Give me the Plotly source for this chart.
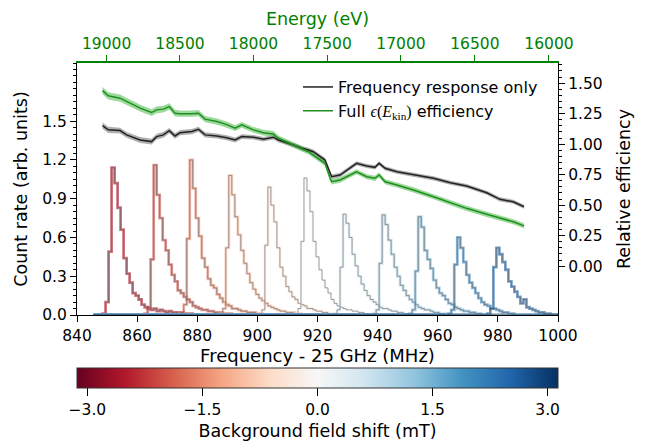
import numpy as np
import plotly.graph_objects as go
from plotly.colors import sample_colorscale

# ---------------- data ----------------
# histogram bins (MHz, frequency - 25 GHz), 1 MHz wide
bin_lo, bin_hi, bin_w = 845.5, 1000.5, 1.0

field_shifts = [-2.5, -2.0, -1.5, -1.0, -0.5, 0.0, 0.5, 1.0, 1.5, 2.0, 2.5]   # mT
hist_start = [848.5, 862.5, 874.5, 887.5, 900.5, 912.5, 925.5, 938.5, 950.5, 963.5, 976.5]
hist_vals = [
    [0.01, 0.10, 0.49, 1.14, 1.02, 0.83, 0.66, 0.44, 0.32, 0.25, 0.17, 0.15, 0.12, 0.08, 0.06,
     0.05, 0.04, 0.05, 0.03, 0.04, 0.03, 0.02, 0.03, 0.02, 0.02, 0.01, 0.02, 0.01, 0.01, 0.01],
    [0.01, 0.06, 0.43, 1.16, 0.93, 0.75, 0.58, 0.50, 0.39, 0.31, 0.26, 0.19, 0.17, 0.14, 0.12,
     0.10, 0.07, 0.06, 0.05, 0.04, 0.04, 0.03, 0.03, 0.02, 0.02, 0.02, 0.01, 0.01, 0.01],
    [0.02, 0.08, 0.59, 1.20, 0.98, 0.75, 0.61, 0.44, 0.37, 0.28, 0.23, 0.21, 0.16, 0.13, 0.10,
     0.08, 0.07, 0.05, 0.05, 0.04, 0.03, 0.03, 0.02, 0.02, 0.02, 0.01, 0.01],
    [0.01, 0.05, 0.52, 1.08, 0.93, 0.76, 0.62, 0.50, 0.40, 0.32, 0.25, 0.20, 0.16, 0.13, 0.11,
     0.09, 0.07, 0.06, 0.05, 0.04, 0.03, 0.03, 0.02, 0.02, 0.02, 0.01, 0.01],
    [0.01, 0.04, 0.54, 0.99, 0.85, 0.72, 0.52, 0.37, 0.30, 0.22, 0.18, 0.14, 0.12, 0.09, 0.08,
     0.07, 0.05, 0.05, 0.04, 0.03, 0.03, 0.02, 0.02, 0.01, 0.01],
    [0.01, 0.05, 0.57, 1.06, 0.96, 0.80, 0.57, 0.45, 0.35, 0.27, 0.21, 0.17, 0.12, 0.09, 0.07,
     0.06, 0.05, 0.04, 0.04, 0.03, 0.03, 0.02, 0.02, 0.01, 0.01],
    [0.01, 0.04, 0.37, 0.78, 0.71, 0.60, 0.47, 0.38, 0.30, 0.24, 0.19, 0.15, 0.12, 0.10, 0.08,
     0.06, 0.05, 0.05, 0.04, 0.03, 0.03, 0.02, 0.02, 0.01, 0.01],
    [0.01, 0.04, 0.40, 0.775, 0.70, 0.58, 0.47, 0.37, 0.30, 0.23, 0.19, 0.15, 0.12, 0.10, 0.08,
     0.06, 0.05, 0.04, 0.04, 0.03, 0.02, 0.02, 0.01, 0.01],
    [0.01, 0.04, 0.34, 0.76, 0.68, 0.50, 0.43, 0.36, 0.27, 0.21, 0.17, 0.15, 0.12, 0.09, 0.08,
     0.06, 0.05, 0.04, 0.03, 0.03, 0.02, 0.02, 0.01, 0.01],
    [0.01, 0.04, 0.39, 0.60, 0.52, 0.41, 0.31, 0.25, 0.21, 0.17, 0.13, 0.10, 0.08, 0.07, 0.05,
     0.05, 0.04, 0.03, 0.02, 0.02, 0.01, 0.01],
    [0.01, 0.05, 0.37, 0.52, 0.47, 0.41, 0.35, 0.26, 0.22, 0.18, 0.14, 0.09, 0.12, 0.06, 0.05,
     0.04, 0.03, 0.02, 0.02, 0.01, 0.01],
]

# efficiency curves (right axis)
eff_freq = [848.5, 850.4, 854.3, 856.5, 861.0, 864.8, 866.5, 868.7, 870.7, 872.6, 874.3, 878.2,
            880.4, 882.6, 886.5, 889.8, 892.6, 894.8, 898.7, 902.0, 905.3, 907.0, 912.0, 914.8,
            917.0, 918.6, 922.5, 924.2, 924.7, 927.5, 930.8, 933.0, 936.4, 939.1, 940.5, 942.5,
            946.4, 951.9, 958.6, 964.2, 969.6, 976.3, 980.7, 985.1, 988.7]
freq_resp_only = [1.152, 1.117, 1.111, 1.076, 1.034, 1.021, 1.062, 1.076, 1.111, 1.067, 1.094, 1.103,
                  1.122, 1.076, 1.067, 1.053, 1.034, 1.062, 1.057, 1.040, 1.057, 1.034, 0.993, 0.966,
                  0.952, 0.938, 0.870, 0.761, 0.733, 0.747, 0.802, 0.843, 0.821, 0.810, 0.843, 0.802,
                  0.774, 0.747, 0.720, 0.684, 0.657, 0.602, 0.548, 0.528, 0.487]
freq_resp_err = [0.025, 0.025, 0.024, 0.024, 0.024, 0.024, 0.023, 0.023, 0.022, 0.022, 0.022, 0.021,
                 0.021, 0.021, 0.020, 0.020, 0.020, 0.020, 0.019, 0.019, 0.019, 0.019, 0.018, 0.018,
                 0.018, 0.018, 0.018, 0.018, 0.018, 0.018, 0.017, 0.017, 0.017, 0.017, 0.017, 0.017,
                 0.017, 0.017, 0.017, 0.017, 0.017, 0.017, 0.017, 0.017, 0.017]
full_eff = [1.439, 1.396, 1.377, 1.350, 1.295, 1.259, 1.281, 1.287, 1.308, 1.254, 1.250, 1.250,
            1.254, 1.205, 1.185, 1.160, 1.131, 1.158, 1.117, 1.094, 1.084, 1.048, 0.993, 0.966,
            0.938, 0.911, 0.843, 0.720, 0.692, 0.706, 0.750, 0.774, 0.733, 0.720, 0.747, 0.692,
            0.665, 0.625, 0.569, 0.520, 0.474, 0.425, 0.392, 0.364, 0.330]
full_eff_err = [0.030, 0.030, 0.029, 0.029, 0.028, 0.028, 0.028, 0.027, 0.027, 0.027, 0.026, 0.026,
                0.026, 0.025, 0.025, 0.025, 0.024, 0.024, 0.024, 0.023, 0.023, 0.023, 0.022, 0.022,
                0.022, 0.022, 0.022, 0.022, 0.022, 0.022, 0.021, 0.021, 0.021, 0.021, 0.021, 0.021,
                0.021, 0.021, 0.021, 0.021, 0.021, 0.021, 0.021, 0.021, 0.021]

# top axis: energy ticks (eV)
energy_ticks = [19000, 18500, 18000, 17500, 17000, 16500, 16000]
F_ZERO_MHZ = 26811.0      # cyclotron frequency for E = 0 (MHz)
ME_C2_EV = 510998.95
F_OFFSET = 25000.0

# colour scale (RdBu)
rdbu = ['rgb(103,0,31)', 'rgb(178,24,43)', 'rgb(214,96,77)', 'rgb(244,165,130)',
        'rgb(253,219,199)', 'rgb(247,247,247)', 'rgb(209,229,240)', 'rgb(146,197,222)',
        'rgb(67,147,195)', 'rgb(33,102,172)', 'rgb(5,48,97)']
cb_min, cb_max = -3.135, 3.135
cb_ticks = [-3.0, -1.5, 0.0, 1.5, 3.0]
cb_ticktext = ['\u22123.0', '\u22121.5', '0.0', '1.5', '3.0']

left_ticks = [0.0, 0.3, 0.6, 0.9, 1.2, 1.5]
right_ticks = [0.0, 0.25, 0.5, 0.75, 1.0, 1.25, 1.5]

FONT = "DejaVu Sans, Arial, sans-serif"
GREEN = "#008000"
W, H = 646, 447
ML, MR, MT, MB = 77, 88, 63, 132
TICK_FS = 15.5
TITLE_FS = 17.5

# ---------------- figure ----------------
fig = go.Figure()

edges = np.arange(bin_lo, bin_hi + 1e-9, bin_w)
nb = len(edges) - 1
pos = [(s - cb_min) / (cb_max - cb_min) for s in field_shifts]
cols = sample_colorscale(rdbu, pos, colortype='rgb')

def with_alpha(c, a):
    return c.replace('rgb(', 'rgba(').replace(')', f',{a})')

for k, (st, vals) in enumerate(zip(hist_start, hist_vals)):
    counts = np.zeros(nb)
    i0 = int(round((st - bin_lo) / bin_w))
    n = min(len(vals), nb - i0)
    counts[i0:i0 + n] = vals[:n]
    xs = edges
    ys = np.append(counts, counts[-1])
    fig.add_trace(go.Scatter(x=xs, y=ys, mode='lines', line=dict(shape='hv', width=2.8,
                             color=with_alpha(cols[k], 0.6)),
                             showlegend=False, hoverinfo='skip'))
    fig.add_trace(go.Scatter(x=xs, y=ys, mode='lines', line=dict(shape='hv', width=1.0,
                             color='rgba(95,95,95,0.6)'),
                             showlegend=False, hoverinfo='skip'))

def band(xv, yv, ev, fillcol):
    lo = [y - e for y, e in zip(yv, ev)]
    hi = [y + e for y, e in zip(yv, ev)]
    fig.add_trace(go.Scatter(x=xv, y=lo, yaxis='y2', mode='lines', line=dict(width=0),
                             showlegend=False, hoverinfo='skip'))
    fig.add_trace(go.Scatter(x=xv, y=hi, yaxis='y2', mode='lines', line=dict(width=0),
                             fill='tonexty', fillcolor=fillcol, showlegend=False, hoverinfo='skip'))

band(eff_freq, freq_resp_only, freq_resp_err, 'rgba(80,80,80,0.45)')
band(eff_freq, full_eff, full_eff_err, 'rgba(60,180,60,0.5)')

fig.add_trace(go.Scatter(x=eff_freq, y=freq_resp_only, yaxis='y2', mode='lines',
                         line=dict(color='#222222', width=1.5), name='Frequency response only',
                         legendgroup='a'))
fig.add_trace(go.Scatter(x=eff_freq, y=full_eff, yaxis='y2', mode='lines',
                         line=dict(color='#1f8f1f', width=1.5), legendgroup='b',
                         name='Full <span style="font-family:Liberation Serif, DejaVu Serif, serif">'
                              '<i>\u03f5</i>(<i>E</i><sub>kin</sub>)</span> efficiency'))

# invisible trace to activate the top (energy) axis
fig.add_trace(go.Scatter(x=[900], y=[-5], xaxis='x2', mode='markers', marker=dict(size=1, opacity=0),
                         showlegend=False, hoverinfo='skip'))

# colourbar carrier (point lies outside the visible range)
fig.add_trace(go.Scatter(x=[900], y=[-5], mode='markers', showlegend=False, hoverinfo='skip',
                         marker=dict(color=[0], colorscale=[[i / 10, c] for i, c in enumerate(rdbu)],
                                     cmin=cb_min, cmax=cb_max, size=1, opacity=0,
                                     colorbar=dict(orientation='h',
                                                   x=0.5, xanchor='center', xref='paper',
                                                   y=1 - 368 / H, yref='container',
                                                   yanchor='top', len=1.0, lenmode='fraction',
                                                   thickness=20, xpad=0, ypad=0,
                                                   outlinewidth=1, outlinecolor='#333333',
                                                   ticks='outside', ticklen=8, tickcolor='black',
                                                   tickvals=cb_ticks, ticktext=cb_ticktext,
                                                   tickfont=dict(size=TICK_FS, color='black'),
                                                   title=dict(text='Background field shift (mT)',
                                                              side='bottom',
                                                              font=dict(size=TITLE_FS, color='black'))),
                                     showscale=True)))

# top axis tick positions from energy
top_vals = [F_ZERO_MHZ / (1 + e / ME_C2_EV) - F_OFFSET for e in energy_ticks]

left_minor = [round(v, 2) for v in np.arange(0, 1.951, 0.05)
              if round(v, 2) not in [round(t, 2) for t in left_ticks]]
right_minor = [round(v, 2) for v in np.arange(0, 1.651, 0.05)
               if round(v, 2) not in [round(t, 2) for t in right_ticks]]

fig.update_layout(
    width=W, height=H,
    margin=dict(l=ML, r=MR, t=MT, b=MB, autoexpand=False),
    paper_bgcolor='white', plot_bgcolor='white',
    font=dict(family=FONT, size=TICK_FS, color='black'),
    showlegend=True,
    legend=dict(x=(298 - ML) / (W - ML - MR), y=0.972, xanchor='left', yanchor='top',
                bgcolor='rgba(0,0,0,0)', traceorder='normal',
                font=dict(size=16), itemwidth=30, tracegroupgap=11),
    xaxis=dict(range=[840, 1000], showline=True, linecolor='black', linewidth=1.2,
               ticks='outside', ticklen=6, tickwidth=1.2, tickcolor='black', dtick=20, tick0=840,
               showgrid=False, zeroline=False, tickfont=dict(size=TICK_FS), automargin=False,
               title=dict(text='Frequency - 25 GHz (MHz)', font=dict(size=18), standoff=2)),
    xaxis2=dict(overlaying='x', side='top', anchor='y', range=[840, 1000], showline=True,
                linecolor=GREEN, linewidth=1.5, ticks='outside', ticklen=6, tickwidth=1.2,
                tickcolor=GREEN, tickmode='array', tickvals=top_vals,
                ticktext=[str(e) for e in energy_ticks], automargin=False,
                tickfont=dict(size=TICK_FS, color=GREEN), showgrid=False, zeroline=False,
                title=dict(text='Energy (eV)', font=dict(size=TITLE_FS, color=GREEN), standoff=5)),
    yaxis=dict(range=[0, 1.95], showline=True, linecolor='black', linewidth=1.2,
               ticks='outside', ticklen=6, tickwidth=1.2, tickcolor='black', automargin=False,
               tickmode='array', tickvals=left_ticks, ticktext=[f'{t:.1f}' for t in left_ticks],
               minor=dict(tickmode='array', tickvals=left_minor, ticks='outside', ticklen=3,
                          tickcolor='black', tickwidth=1, showgrid=False),
               showgrid=False, zeroline=False, tickfont=dict(size=TICK_FS),
               title=dict(text='Count rate (arb. units)', font=dict(size=TITLE_FS), standoff=10)),
    yaxis2=dict(overlaying='y', side='right', anchor='x', range=[-0.40, 1.665], showline=True,
                linecolor='black', linewidth=1.2, ticks='outside', ticklen=6, tickwidth=1.2,
                tickcolor='black', tickmode='array', tickvals=right_ticks, automargin=False,
                ticktext=[f'{t:.2f}' for t in right_ticks],
                minor=dict(tickmode='array', tickvals=right_minor, ticks='outside', ticklen=3,
                           tickcolor='black', tickwidth=1, showgrid=False),
                showgrid=False, zeroline=False, tickfont=dict(size=TICK_FS),
                title=dict(text='Relative efficiency', font=dict(size=TITLE_FS), standoff=16)),
)

# remove the browser's default page margin so the figure sits at the window origin
fig.write_html("out.html", config={'displayModeBar': False},
               post_script="document.body.style.margin='0px';")
